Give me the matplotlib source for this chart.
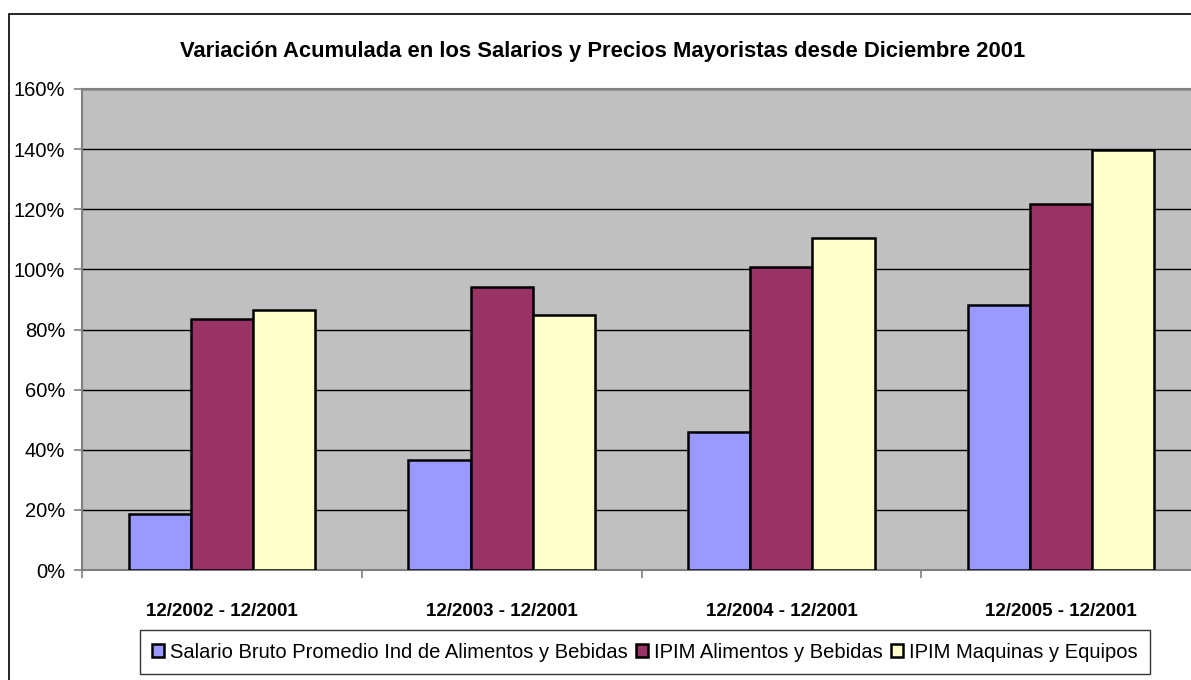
import matplotlib
matplotlib.use('Agg')
import matplotlib.pyplot as plt
import matplotlib.ticker as ticker
from matplotlib.patches import Rectangle
import numpy as np

plt.rcParams['font.family'] = ['Liberation Sans', 'DejaVu Sans']

title = 'Variación Acumulada en los Salarios y Precios Mayoristas desde Diciembre 2001'
periods = ['12/2002 - 12/2001', '12/2003 - 12/2001', '12/2004 - 12/2001', '12/2005 - 12/2001']
series_names = ['Salario Bruto Promedio Ind de Alimentos y Bebidas',
                'IPIM Alimentos y Bebidas',
                'IPIM Maquinas y Equipos']
salario = [18.5, 36.6, 46.0, 88.3]
ipim_alim = [83.4, 94.3, 100.8, 121.8]
ipim_maq = [86.5, 84.9, 110.3, 139.8]
colors = ['#9999FF', '#993366', '#FFFFCC']


def plot():
    fig = plt.figure(figsize=(11.91, 6.80), dpi=100)
    W, H = 1191.0, 680.0

    # outer chart border (runs off the right/bottom of the image)
    fig.patches.append(Rectangle((9 / W, -0.05), 1.2, (680 - 14) / H + 0.05,
                                 transform=fig.transFigure, fill=False,
                                 edgecolor='black', linewidth=1.2))

    ax = fig.add_axes([82 / W, 110 / H, (1201 - 82) / W, 481 / H])
    ax.set_facecolor('#C0C0C0')

    x = np.arange(len(periods))
    w = 0.222
    data = [salario, ipim_alim, ipim_maq]
    for i, vals in enumerate(data):
        ax.bar(x + (i - 1) * w, vals, width=w, color=colors[i],
               edgecolor='black', linewidth=1.8, label=series_names[i], zorder=3)

    ax.set_xlim(-0.5, len(periods) - 0.5)
    ax.set_ylim(0, 160)
    ax.yaxis.set_major_locator(ticker.MultipleLocator(20))
    ax.yaxis.set_major_formatter(ticker.FormatStrFormatter('%.0f%%'))
    ax.grid(axis='y', color='black', linewidth=1.0, zorder=1)
    ax.set_axisbelow(True)

    ax.set_xticks(np.arange(len(periods) + 1) - 0.5)
    ax.set_xticklabels([])
    ax.set_xticks(x, minor=True)
    ax.set_xticklabels(periods, minor=True, fontsize=13.5, fontweight='bold')
    ax.tick_params(axis='x', which='major', length=6, color='#808080', width=1.2)
    ax.tick_params(axis='x', which='minor', length=0, pad=24)
    ax.tick_params(axis='y', length=6, color='#808080', width=1.2,
                   labelsize=14.5, pad=6)

    for s in ['left', 'bottom', 'top']:
        ax.spines[s].set_color('#808080')
        ax.spines[s].set_linewidth(1.5)
    ax.spines['right'].set_visible(False)

    fig.text(603 / W, 1 - 51 / H, title, ha='center', va='center',
             fontsize=15.8, fontweight='bold')

    leg = fig.legend(loc='center', bbox_to_anchor=(645 / W, 1 - 652 / H),
                     ncol=3, fontsize=14.5, frameon=True, fancybox=False,
                     edgecolor='black', handlelength=0.6, handleheight=0.6,
                     handletextpad=0.3, columnspacing=0.4, borderpad=0.6)
    leg.get_frame().set_linewidth(1.0)

    plt.savefig('out.png', dpi=100)


if __name__ == '__main__':
    plot()
